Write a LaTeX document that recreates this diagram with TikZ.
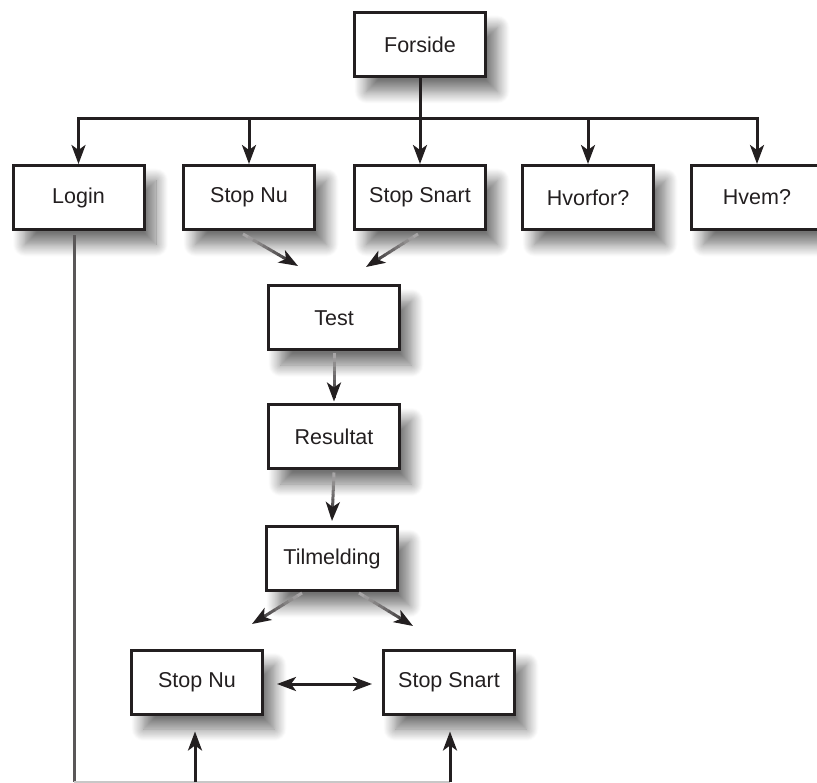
\documentclass[tikz,border=0pt]{standalone}
\usepackage{fontspec}
\setmainfont{Liberation Sans}
\usetikzlibrary{arrows.meta,shadows.blur,calc}
\definecolor{ink}{HTML}{231F20}
\tikzset{
  box/.style={draw=ink, line width=3pt, fill=white, minimum width=131pt,
    minimum height=64pt, inner sep=0pt, text=ink, font=\fontsize{21.5}{25}\selectfont,
    blur shadow={shadow xshift=12pt, shadow yshift=-15pt, shadow blur radius=12pt,
      shadow blur steps=14, shadow opacity=55}},
  conn/.style={draw=ink, line width=3pt, line join=miter},
  tip/.style={-{Stealth[length=19pt,width=14pt,inset=5pt]}},
  dtip/.style={{Stealth[length=19pt,width=14pt,inset=5pt]}-{Stealth[length=19pt,width=14pt,inset=5pt]}},
}
\newcommand\gradline[3]{%
  \foreach \i in {0,...,9}{%
    \pgfmathtruncatemacro\gk{#3+(95-#3)*\i/10}%
    \pgfmathsetmacro\ta{\i/11}\pgfmathsetmacro\tb{(\i+1)/11+0.01}%
    \draw[line width=3pt, draw=ink!\gk!white] ($(#1)!\ta!(#2)$) -- ($(#1)!\tb!(#2)$);
  }%
}
\newcommand\gradarrow[2]{%
  \gradline{#1}{#2}{40}%
  \draw[conn,tip] ($(#1)!0.88!(#2)$) -- (#2);
}
\begin{document}
\begin{tikzpicture}[x=1pt,y=-1pt]
\useasboundingbox (0,0) rectangle (817,783);
% nodes
\node[box] (forside) at (420,44.5) {Forside};
\node[box] (login) at (78.5,197.5) {Login};
\node[box] (stopnu) at (249,197.5) {Stop Nu};
\node[box] (stopsnart) at (420,197.5) {Stop Snart};
\node[box] (hvorfor) at (588,197.5) {Hvorfor?};
\node[box] (hvem) at (757,197.5) {Hvem?};
\node[box] (test) at (334,318) {Test};
\node[box] (resultat) at (334,437) {Resultat};
\node[box] (tilmelding) at (332,558.5) {Tilmelding};
\node[box] (bnu) at (197,682) {Stop Nu};
\node[box] (bsnart) at (449,682) {Stop Snart};
% coordinates
\coordinate (bus) at (420,119);
\coordinate (t1) at (298,266);
\coordinate (t2) at (366,267);
\coordinate (t3) at (252,624);
\coordinate (t4) at (413,626);
\coordinate (corner) at (74,782);
\coordinate (b1) at (195,782);
\coordinate (b2) at (450,782);
% top tree
\draw[conn] (forside.south) -- (bus);
\draw[conn,tip] (bus) -| (login.north);
\draw[conn,tip] (bus) -| (hvem.north);
\draw[conn,tip] (stopnu.north |- bus) -- (stopnu.north);
\draw[conn,tip] (bus) -- (stopsnart.north);
\draw[conn,tip] (hvorfor.north |- bus) -- (hvorfor.north);
% gradient connectors
\gradarrow{$(stopnu.south)+(-6,3)$}{t1}
\gradarrow{$(stopsnart.south)+(-2,3)$}{t2}
\gradarrow{$(test.south)+(0,2)$}{$(resultat.north)+(0,-2)$}
\gradarrow{$(resultat.south)+(0,2)$}{$(tilmelding.north)+(0,-4)$}
\gradarrow{$(tilmelding.south)+(-30,1)$}{t3}
\gradarrow{$(tilmelding.south)+(27,1)$}{t4}
\draw[conn, draw=ink!75] ($(login.south)+(-4.5,4)$) -- (corner);
% bottom
\draw[draw=ink!25, line width=1.6pt] (corner) -- (b2);
\draw[conn,tip] (b1) -- ($(bnu.south)+(-2,16)$);
\draw[conn,tip] (b2) -- ($(bsnart.south)+(1,16)$);
\draw[conn,dtip] ($(bnu.east)+(13,2)$) -- ($(bsnart.west)+(-10,2)$);
\end{tikzpicture}
\end{document}
